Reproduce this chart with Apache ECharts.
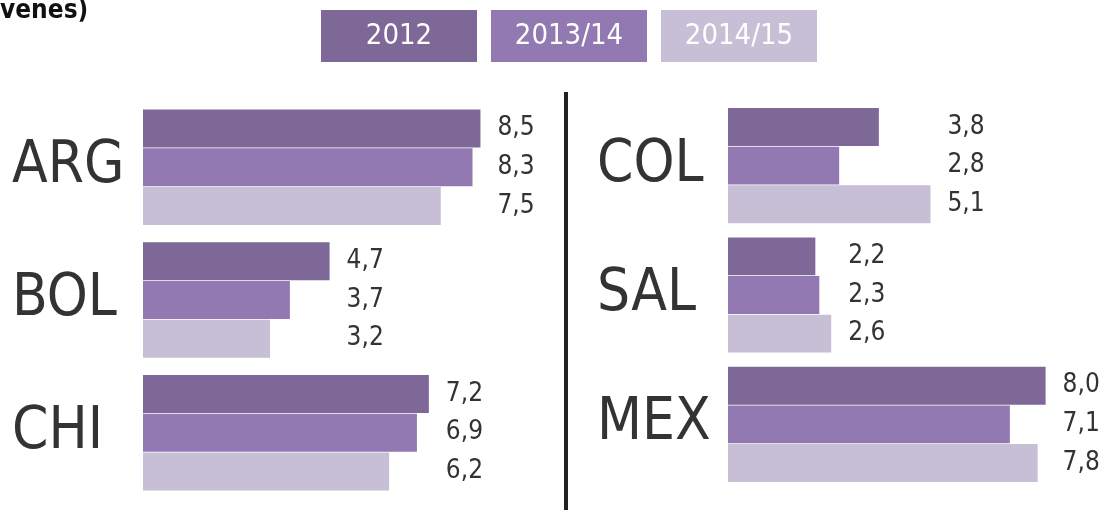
<!DOCTYPE html>
<html>
<head>
<meta charset="utf-8">
<script src="https://cdn.jsdelivr.net/npm/echarts@6/dist/echarts.min.js"></script>
<style>
  html, body { margin: 0; padding: 0; background: #fff; }
  #main { width: 1101px; height: 510px; }
</style>
</head>
<body>
<div id="main"></div>
<script>
// datos
var years = ['2012', '2013/14', '2014/15']
var colors = ['#7e6897', '#9279b1', '#c6bfd6']

var leftCountries = ['ARG', 'BOL', 'CHI']
var left2012 = [8.5, 4.7, 7.2]
var left2013 = [8.3, 3.7, 6.9]
var left2014 = [7.5, 3.2, 6.2]

var rightCountries = ['COL', 'SAL', 'MEX']
var right2012 = [3.8, 2.2, 8.0]
var right2013 = [2.8, 2.3, 7.1]
var right2014 = [5.1, 2.6, 7.8]

var FONT = "'Liberation Sans Narrow', 'DejaVu Sans Condensed', 'DejaVu Sans', sans-serif"
var AXIS_MAX = 10
var GRID_W = 397
var PX = GRID_W / AXIS_MAX

function fmt(v) {
  return v.toFixed(1).replace('.', ',')
}

// las etiquetas de un país se alinean tras la barra más larga del grupo
function buildData(values, groups) {
  return values.map(function (v, i) {
    var max = Math.max.apply(null, groups.map(function (g) { return g[i] }))
    return { value: v, label: { offset: [(max - v) * PX, 0] } }
  })
}

function barSeries(values, groups, idx, axisIdx, gap) {
  return {
    name: years[idx],
    type: 'bar',
    xAxisIndex: axisIdx,
    yAxisIndex: axisIdx,
    barGap: '2%',
    barCategoryGap: gap,
    itemStyle: { color: colors[idx] },
    label: {
      show: true,
      position: 'right',
      distance: 17,
      fontFamily: FONT,
      fontSize: 26,
      color: '#333',
      formatter: function (p) { return fmt(p.value) }
    },
    data: buildData(values, groups)
  }
}

var leftGroups = [left2012, left2013, left2014]
var rightGroups = [right2012, right2013, right2014]

function catAxis(cats, idx) {
  return {
    type: 'category',
    gridIndex: idx,
    inverse: true,
    data: cats,
    axisLine: { show: false },
    axisTick: { show: false },
    axisLabel: {
      align: 'left',
      margin: 131,
      fontFamily: FONT,
      fontSize: 58,
      color: '#333'
    }
  }
}

function valAxis(idx) {
  return { type: 'value', gridIndex: idx, min: 0, max: AXIS_MAX, show: false }
}

// leyenda: cajas de color con el texto centrado
var legendRich = {}
colors.forEach(function (c, i) {
  legendRich['b' + i] = {
    width: 156,
    height: 52,
    lineHeight: 52,
    align: 'center',
    backgroundColor: c,
    color: '#fff',
    fontFamily: FONT,
    fontSize: 29
  }
})

var myChart = echarts.init(document.getElementById('main'))

var option = {
  animation: false,
  title: {
    text: 'venes)',
    left: 0,
    top: -2,
    padding: 0,
    textStyle: { fontFamily: FONT, fontSize: 26, fontWeight: 'bold', color: '#111' }
  },
  legend: {
    left: 311,
    top: 5,
    itemWidth: 0,
    itemHeight: 0,
    itemGap: 9,
    icon: 'none',
    selectedMode: false,
    formatter: function (name) {
      return '{b' + years.indexOf(name) + '|' + name + '}'
    },
    textStyle: { rich: legendRich },
    data: years
  },
  grid: [
    { left: 143, top: 101, width: GRID_W, height: 398, outerBoundsMode: 'none' },
    { left: 728, top: 101, width: GRID_W, height: 388, outerBoundsMode: 'none' }
  ],
  xAxis: [valAxis(0), valAxis(1)],
  yAxis: [catAxis(leftCountries, 0), catAxis(rightCountries, 1)],
  series: [
    barSeries(left2012, leftGroups, 0, 0, '13%'),
    barSeries(left2013, leftGroups, 1, 0, '13%'),
    barSeries(left2014, leftGroups, 2, 0, '13%'),
    barSeries(right2012, rightGroups, 0, 1, '11%'),
    barSeries(right2013, rightGroups, 1, 1, '11%'),
    barSeries(right2014, rightGroups, 2, 1, '11%')
  ],
  graphic: [
    // línea divisoria
    { type: 'rect', left: 564, top: 92, shape: { width: 4, height: 418 }, style: { fill: '#222' } }
  ]
}

myChart.setOption(option)
</script>
</body>
</html>
